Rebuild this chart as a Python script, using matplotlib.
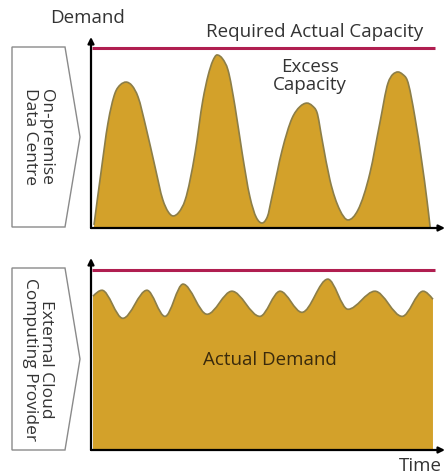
import matplotlib
matplotlib.use("Agg")
import matplotlib.pyplot as plt
from matplotlib.patches import Polygon, PathPatch
from matplotlib.path import Path

plt.rcParams['font.family'] = ['Open Sans', 'DejaVu Sans']

# ---- data (time 0..100, demand 0..100) ----
onprem_time = [0.85, 2.8, 4.8, 6.8, 8.3, 9.9, 11.6, 13.3, 15.5, 18.1, 20.3, 21.8, 23.2, 24.8,
               26.6, 29.4, 31.6, 33.1, 34.4, 35.6, 37.2, 38.7, 40.7, 42.7, 44.9, 46.7, 48.3,
               49.8, 51.1, 54.0, 56.8, 59.0, 61.0, 62.5, 63.8, 65.3, 67.5, 70.3, 72.6, 75.4,
               78.8, 81.6, 83.9, 85.3, 86.7, 88.0, 89.3, 91.5, 93.5, 94.9, 95.8]
onprem_demand = [1.6, 28.8, 55.0, 70.7, 75.0, 76.4, 74.5, 68.6, 52.9, 31.9, 14.7, 8.5, 6.3, 8.2,
                 14.7, 39.3, 67.0, 80.0, 87.5, 90.6, 88.5, 82.7, 63.4, 39.3, 16.2, 5.5, 2.6,
                 5.8, 16.2, 40.8, 57.5, 63.5, 65.4, 64.0, 60.7, 46.1, 25.1, 9.4, 4.2, 9.4,
                 28.8, 55.0, 75.9, 80.5, 81.7, 80.5, 77.5, 58.1, 34.0, 14.7, 0.5]

cloud_time = [0.56, 3.1, 9.0, 15.8, 20.9, 26.0, 32.8, 39.8, 47.7, 53.4, 59.6, 66.9, 72.6,
              80.2, 87.9, 93.8, 96.6]
cloud_demand = [80.1, 83.2, 68.6, 83.2, 69.6, 86.4, 70.7, 82.7, 69.6, 82.7, 71.7, 89.0, 73.3,
                82.7, 69.6, 82.7, 78.5]

required_capacity = 94.0
capacity_span = [0.3, 97.2]

panel_labels = ["On-premise\nData Centre", "External Cloud\nComputing Provider"]

# ---- styling ----
W, H = 446, 475
GOLD = '#D3A12A'
EDGE = '#8C7E48'
RED = '#B01E50'
TXT = '#333333'
FS = 13.5

fig = plt.figure(figsize=(W / 100, H / 100), dpi=100)
fig.patch.set_facecolor('white')


def fx(x):
    return x / W


def fy(y):
    return 1 - y / H


def _sign(v):
    return (v > 0) - (v < 0)


def smooth_path_vertices(xs, ys):
    """Bezier path through the data points with monotone (d3 monotoneX-like) tangents."""
    n = len(xs)
    h = [xs[i + 1] - xs[i] for i in range(n - 1)]
    s = [(ys[i + 1] - ys[i]) / h[i] for i in range(n - 1)]
    m = [0.0] * n
    for i in range(1, n - 1):
        p = (s[i - 1] * h[i] + s[i] * h[i - 1]) / (h[i - 1] + h[i])
        m[i] = (_sign(s[i - 1]) + _sign(s[i])) * min(abs(s[i - 1]), abs(s[i]), 0.5 * abs(p))
    m[0] = (3 * s[0] - m[1]) / 2 if n > 2 else s[0]
    m[-1] = (3 * s[-1] - m[-2]) / 2 if n > 2 else s[-1]
    verts = [(xs[0], ys[0])]
    codes = [Path.MOVETO]
    for i in range(n - 1):
        d = h[i] / 3
        verts += [(xs[i] + d, ys[i] + m[i] * d), (xs[i + 1] - d, ys[i + 1] - m[i + 1] * d),
                  (xs[i + 1], ys[i + 1])]
        codes += [Path.CURVE4] * 3
    return verts, codes


def draw_area(ax, xs, ys):
    verts, codes = smooth_path_vertices(xs, ys)
    fverts = [(xs[0], 0)] + verts + [(xs[-1], 0), (xs[0], 0)]
    fcodes = [Path.MOVETO, Path.LINETO] + codes[1:] + [Path.LINETO, Path.CLOSEPOLY]
    ax.add_patch(PathPatch(Path(fverts, fcodes), facecolor=GOLD, edgecolor='none', zorder=1))
    ax.add_patch(PathPatch(Path(verts, codes), facecolor='none', edgecolor=EDGE, lw=1.2, zorder=2))


def make_axes(y_bottom_px, y_top_px):
    ax = fig.add_axes([fx(91), fy(y_bottom_px), fx(445) - fx(91), (y_bottom_px - y_top_px) / H])
    ax.set_xlim(0, 100)
    ax.set_ylim(0, 100)
    for sp in ax.spines.values():
        sp.set_visible(False)
    ax.set_xticks([])
    ax.set_yticks([])
    ax.patch.set_alpha(0)
    ax.annotate('', xy=(0, 1.0), xytext=(0, 0), xycoords='axes fraction',
                arrowprops=dict(arrowstyle='-|>', color='black', lw=1.6, mutation_scale=9,
                                shrinkA=0, shrinkB=0), annotation_clip=False)
    ax.annotate('', xy=(1.0, 0), xytext=(0, 0), xycoords='axes fraction',
                arrowprops=dict(arrowstyle='-|>', color='black', lw=1.6, mutation_scale=9,
                                shrinkA=0, shrinkB=0), annotation_clip=False)
    return ax


# top panel
ax1 = make_axes(228, 37)
draw_area(ax1, onprem_time, onprem_demand)
ax1.plot(capacity_span, [required_capacity] * 2, color=RED, lw=2.2, solid_capstyle='butt', zorder=3)

# bottom panel
ax2 = make_axes(450, 258)
draw_area(ax2, cloud_time, cloud_demand)
ax2.plot(capacity_span, [required_capacity] * 2, color=RED, lw=2.2, solid_capstyle='butt', zorder=3)

# side label pentagons
for (top, bot), label in zip([(47, 227), (268, 450)], panel_labels):
    mid = (top + bot) / 2
    pts = [(fx(12), fy(top)), (fx(65), fy(top)), (fx(80), fy(mid)), (fx(65), fy(bot)), (fx(12), fy(bot))]
    fig.patches.append(Polygon(pts, closed=True, facecolor='white', edgecolor='#8a8a8a', lw=1.0,
                               transform=fig.transFigure))
    fig.text(fx(38), fy(mid), label, rotation=-90, ha='center', va='center', fontsize=12.5,
             color=TXT, linespacing=1.05)

# annotations
fig.text(fx(88), fy(18), "Demand", ha='center', va='center', fontsize=FS, color=TXT)
fig.text(fx(315), fy(32), "Required Actual Capacity", ha='center', va='center', fontsize=FS, color=TXT)
fig.text(fx(310), fy(76), "Excess\nCapacity", ha='center', va='center', fontsize=FS, color=TXT,
         linespacing=1.0)
fig.text(fx(270), fy(360), "Actual Demand", ha='center', va='center', fontsize=FS, color='#3a2a0c')
fig.text(fx(420), fy(466), "Time", ha='center', va='center', fontsize=FS, color=TXT)

fig.savefig('out.png', dpi=100, facecolor='white')
